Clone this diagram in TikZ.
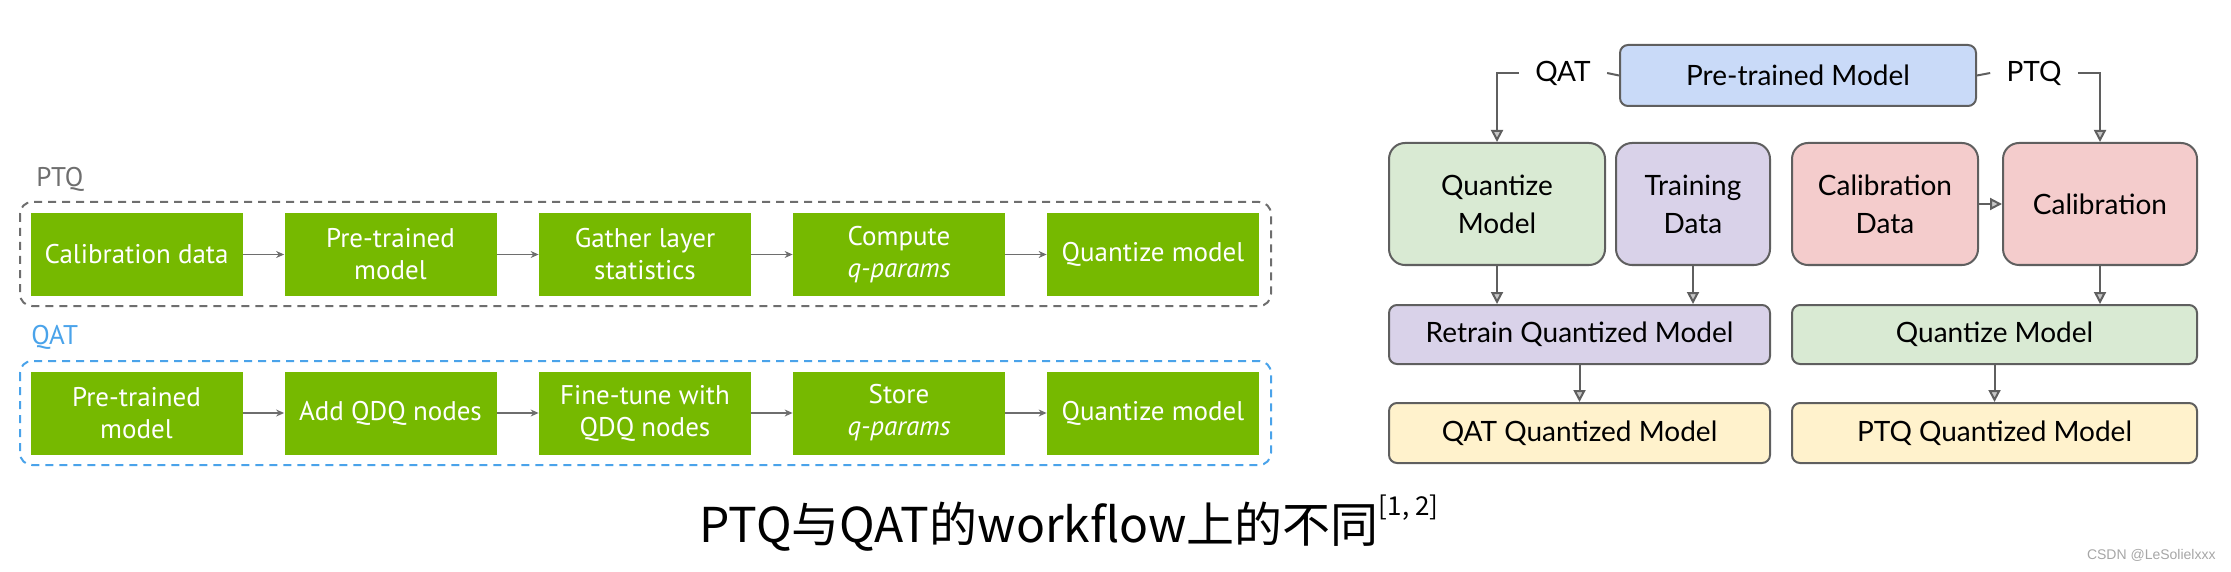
\documentclass[tikz,border=0pt]{standalone}
\usepackage{fontspec}
\usetikzlibrary{arrows.meta}
\newfontfamily\nvfont{PT Sans}
\newfontfamily\gillfont{Lato}
\newfontfamily\cjk{Noto Sans CJK SC}
\newfontfamily\wmfont{Liberation Sans}
\definecolor{nvgreen}{HTML}{76B900}
\definecolor{nvgray}{HTML}{6E6E6E}
\definecolor{qatblue}{HTML}{4AA3EA}
\definecolor{rborder}{HTML}{5F5F5F}
\definecolor{rblue}{HTML}{C9DAF8}
\definecolor{rgreen}{HTML}{D9EAD3}
\definecolor{rpurple}{HTML}{D9D2E9}
\definecolor{rred}{HTML}{F4CCCC}
\definecolor{ryellow}{HTML}{FFF2CC}
\tikzset{
  nvbox/.style={fill=nvgreen, text=white, minimum width=106pt, minimum height=41.5pt,
    inner sep=0pt, align=center, font=\nvfont\fontsize{13.5}{16}\selectfont},
  nvarrow/.style={draw=nvgray, line width=0.6pt, -{Stealth[length=4pt,width=3.5pt]}},
  rbox/.style={draw=rborder, line width=1pt, rounded corners=4pt, inner sep=0pt,
    align=center, font=\gillfont\fontsize{14}{19}\selectfont},
  rline/.style={draw=rborder, line width=1pt},
  rarrow/.style={rline, -{Triangle[length=6pt,width=6pt,fill=gray!45]}},
  flowlabel/.style={inner ysep=0pt, inner xsep=8pt, font=\gillfont\fontsize{14}{19}\selectfont}
}
\begin{document}
\begin{tikzpicture}[x=0.5pt,y=-0.5pt]
\useasboundingbox (0,0) rectangle (2231,572);

% left: NVIDIA style workflow
\node[anchor=west, inner sep=0pt, text=nvgray, font=\nvfont\fontsize{13.5}{16}\selectfont] (ptqtitle) at (36,179) {PTQ};
\draw[nvgray, line width=1pt, dash pattern=on 4pt off 3pt, rounded corners=6pt] (20,202) rectangle (1271,306);
\node[nvbox] (p1) at (136.5,254.5) {Calibration data};
\node[nvbox] (p2) at (390.5,254.5) {Pre-trained\\model};
\node[nvbox] (p3) at (645,254.5) {Gather layer\\statistics};
\node[nvbox] (p4) at (899,254.5) {Compute\\\textit{q-params}};
\node[nvbox] (p5) at (1153,254.5) {Quantize model};
\draw[nvarrow] (p1) -- (p2);
\draw[nvarrow] (p2) -- (p3);
\draw[nvarrow] (p3) -- (p4);
\draw[nvarrow] (p4) -- (p5);

\node[anchor=west, inner sep=0pt, text=qatblue, font=\nvfont\fontsize{13.5}{16}\selectfont] (qattitle) at (31,337) {QAT};
\draw[qatblue, line width=1pt, dash pattern=on 4pt off 3pt, rounded corners=6pt] (20,361) rectangle (1271,465);
\node[nvbox] (q1) at (136.5,413) {Pre-trained\\model};
\node[nvbox] (q2) at (390.5,413) {Add QDQ nodes};
\node[nvbox] (q3) at (645,413) {Fine-tune with\\QDQ nodes};
\node[nvbox] (q4) at (899,413) {Store\\\textit{q-params}};
\node[nvbox] (q5) at (1153,413) {Quantize model};
\draw[nvarrow] (q1) -- (q2);
\draw[nvarrow] (q2) -- (q3);
\draw[nvarrow] (q3) -- (q4);
\draw[nvarrow] (q4) -- (q5);

% right: PTQ vs QAT tree
\node[rbox, fill=rblue, minimum width=178pt, minimum height=30.5pt] (pre) at (1798,75.5) {Pre-trained Model};
\node[rbox, fill=rgreen, rounded corners=8pt, minimum width=108pt, minimum height=61pt] (qz) at (1497,204) {Quantize\\Model};
\node[rbox, fill=rpurple, rounded corners=8pt, minimum width=77pt, minimum height=61pt] (td) at (1693,204) {Training\\Data};
\node[rbox, fill=rred, rounded corners=8pt, minimum width=93pt, minimum height=61pt] (cd) at (1885,204) {Calibration\\Data};
\node[rbox, fill=rred, rounded corners=8pt, minimum width=97pt, minimum height=61pt] (cal) at (2100,204) {Calibration};
\node[rbox, fill=rpurple, minimum width=190.5pt, minimum height=29.5pt] (rt) at (1579.5,334.5) {Retrain Quantized Model};
\node[rbox, fill=rgreen, minimum width=202.5pt, minimum height=29.5pt] (qm) at (1994.5,334.5) {Quantize Model};
\node[rbox, fill=ryellow, minimum width=190.5pt, minimum height=30pt] (qq) at (1579.5,433) {QAT Quantized Model};
\node[rbox, fill=ryellow, minimum width=202.5pt, minimum height=30pt] (pq) at (1994.5,433) {PTQ Quantized Model};

\node[flowlabel] (qatl) at (1563,73) {QAT};
\node[flowlabel] (ptql) at (2034,73) {PTQ};
\draw[rline] (pre.west) -- (qatl.east);
\draw[rarrow] (qatl.west) -| (qz.north);
\draw[rline] (pre.east) -- (ptql.west);
\draw[rarrow] (ptql.east) -| (cal.north);
\draw[rarrow] (cd.east) -- (cal.west);
\draw[rarrow] (qz.south) -- (qz.south |- rt.north);
\draw[rarrow] (td.south) -- (td.south |- rt.north);
\draw[rarrow] (rt.south) -- (qq.north);
\draw[rarrow] (cal.south) -- (cal.south |- qm.north);
\draw[rarrow] (qm.south) -- (pq.north);

% caption and watermark
\node[anchor=base west, inner sep=0pt, font=\cjk\fontsize{24}{28}\selectfont] (caption) at (699,542)
  {PTQ与QAT的workflow上的不同\raisebox{0.55em}{\fontsize{13}{13}\selectfont[1, 2]}};
\node[anchor=east, inner sep=0pt, text=gray!70, font=\wmfont\fontsize{7}{8}\selectfont] (mark) at (2216,555) {CSDN @LeSolielxxx};
\end{tikzpicture}
\end{document}
